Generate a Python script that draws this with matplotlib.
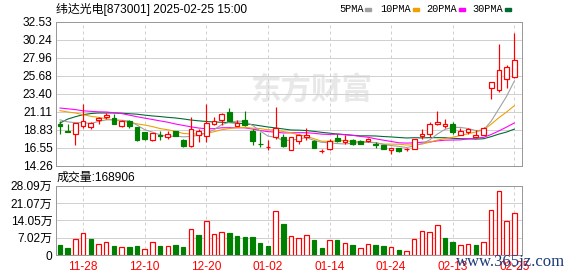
import numpy as np
import matplotlib
matplotlib.use('Agg')
import matplotlib.pyplot as plt
from matplotlib.patches import Rectangle

plt.rcParams['font.family'] = ['Noto Sans CJK SC', 'DejaVu Sans']

# ---- data ----
title = '纬达光电[873001] 2025-02-25 15:00'
vol_title = '成交量:168906'
date_pos = [3, 11, 19, 27, 35, 43, 51, 59]
date_labels = ['11-28', '12-10', '12-20', '01-02', '01-14', '01-24', '02-13', '02-25']
price_ticks = [32.53, 30.24, 27.96, 25.68, 23.40, 21.11, 18.83, 16.55, 14.26]
vol_ticks = [28.09, 21.07, 14.05, 7.02, 0]
vol_tick_labels = ['28.09万', '21.07万', '14.05万', '7.02万', '0']

opens = [19.55, 18.68, 18.25, 19.28, 19.24, 20.04, 20.42, 20.34, 19.28, 20.00,
         19.20, 18.57, 17.51, 18.14, 17.97, 18.70, 17.60, 16.79, 18.14, 18.00,
         19.62, 20.04, 21.10, 19.28, 20.04, 18.65, 17.05, 16.62, 17.93, 17.93,
         16.33, 17.43, 17.93, 17.39, 16.18, 16.37, 17.85, 17.30, 17.51, 17.40,
         17.39, 17.09, 16.88, 16.25, 16.54, 16.35, 16.46, 18.06, 18.36, 19.54,
         19.28, 19.62, 18.23, 18.57, 17.93, 18.23, 24.18, 23.88, 25.23, 25.49]
highs = [19.92, 19.58, 19.75, 22.11, 19.83, 20.47, 20.97, 20.84, 20.04, 20.04,
         19.20, 18.60, 18.45, 18.65, 18.65, 18.75, 17.62, 20.42, 18.90, 22.11,
         20.47, 20.97, 21.60, 20.04, 21.18, 18.99, 18.57, 17.51, 21.73, 18.36,
         17.95, 18.36, 19.11, 17.60, 16.46, 17.72, 18.27, 18.14, 17.72, 17.55,
         17.80, 17.30, 16.90, 16.60, 16.60, 16.54, 17.70, 18.99, 19.83, 21.18,
         20.25, 19.83, 19.07, 19.07, 18.78, 19.20, 24.95, 29.71, 27.05, 31.06]
lows = [18.36, 18.58, 16.88, 19.11, 18.99, 19.62, 20.25, 19.54, 19.24, 19.07,
        17.40, 17.55, 17.45, 17.51, 17.72, 18.05, 16.70, 16.67, 17.30, 17.30,
        19.41, 19.41, 19.92, 19.28, 19.35, 16.88, 16.67, 16.25, 17.72, 16.67,
        16.25, 17.00, 17.60, 16.54, 15.91, 16.25, 17.30, 17.09, 16.96, 17.05,
        17.30, 16.54, 16.40, 15.82, 16.00, 16.12, 16.37, 17.72, 17.93, 19.41,
        19.07, 18.36, 18.14, 18.36, 17.81, 18.14, 22.70, 23.67, 24.09, 25.36]
closes = [19.28, 18.62, 19.70, 19.92, 19.66, 20.30, 20.76, 19.62, 19.92, 19.28,
          17.55, 17.63, 18.40, 18.06, 18.27, 18.10, 16.79, 18.90, 18.65, 19.70,
          19.92, 20.84, 20.00, 19.66, 19.41, 17.39, 17.00, 16.67, 19.07, 16.75,
          17.93, 18.14, 18.20, 16.54, 16.22, 17.39, 17.40, 17.51, 17.09, 17.05,
          17.72, 16.88, 16.46, 16.54, 16.12, 16.40, 17.64, 18.27, 19.54, 19.83,
          19.62, 18.57, 18.65, 18.90, 18.23, 19.07, 24.90, 26.42, 26.84, 27.68]

ma5 = [20.10, 19.85, 19.75, 19.75, 19.65, 19.90, 20.10, 20.10, 20.05, 19.95,
       19.45, 18.85, 18.55, 18.20, 18.00, 18.05, 17.95, 18.00, 18.15, 18.45,
       18.85, 19.50, 19.80, 19.95, 19.90, 19.40, 18.70, 18.05, 17.90, 17.50,
       17.50, 17.70, 17.85, 17.50, 17.25, 17.20, 17.10, 17.05, 17.15, 17.25,
       17.25, 17.20, 17.00, 16.85, 16.75, 16.60, 16.80, 17.10, 17.55, 18.30,
       18.90, 19.15, 19.15, 19.00, 18.75, 18.80, 19.95, 21.50, 23.09, 25.00]
ma10 = [21.27, 21.10, 20.97, 20.76, 20.55, 20.42, 20.25, 20.08, 19.96, 19.80,
        19.60, 19.45, 19.25, 19.00, 18.85, 18.65, 18.38, 18.32, 18.30, 18.40,
        18.60, 18.85, 19.00, 19.12, 19.15, 19.05, 19.00, 18.85, 18.80, 18.62,
        18.47, 18.20, 18.02, 17.71, 17.39, 17.39, 17.42, 17.51, 17.31, 17.35,
        17.33, 17.20, 17.03, 17.03, 17.02, 16.92, 16.95, 17.03, 17.27, 17.54,
        17.73, 17.90, 18.12, 18.35, 18.57, 18.83, 19.56, 20.37, 21.10, 21.89]
ma20 = [21.60, 21.50, 21.40, 21.25, 21.18, 21.12, 21.10, 21.00, 20.90, 20.70,
        20.50, 20.32, 20.15, 19.97, 19.80, 19.58, 19.40, 19.22, 19.07, 18.98,
        18.99, 19.10, 19.11, 19.10, 19.09, 18.94, 18.75, 18.61, 18.56, 18.44,
        18.46, 18.48, 18.47, 18.40, 18.29, 18.26, 18.29, 18.22, 18.14, 18.01,
        17.90, 17.70, 17.53, 17.37, 17.20, 17.16, 17.19, 17.27, 17.29, 17.44,
        17.53, 17.55, 17.57, 17.69, 17.79, 17.88, 18.25, 18.70, 19.19, 19.71]
ma30 = [19.70, 20.20, 20.50, 20.76, 20.90, 20.97, 20.97, 20.97, 20.95, 20.88,
        20.82, 20.70, 20.60, 20.52, 20.42, 20.34, 20.22, 20.08, 19.98, 19.90,
        19.83, 19.80, 19.75, 19.70, 19.60, 19.50, 19.35, 19.20, 19.08, 18.95,
        18.82, 18.80, 18.75, 18.64, 18.52, 18.42, 18.31, 18.24, 18.15, 18.08,
        18.08, 18.06, 17.99, 17.94, 17.87, 17.81, 17.84, 17.82, 17.85, 17.85,
        17.84, 17.77, 17.72, 17.70, 17.66, 17.71, 17.98, 18.30, 18.56, 18.93]

# volume in 万 shares, and whether the bar is drawn red (up) or green
volume = [4.05, 2.97, 6.35, 8.78, 6.48, 4.46, 5.27, 3.65, 3.10, 3.40,
          3.65, 2.43, 5.13, 3.65, 3.50, 4.05, 3.24, 10.4, 8.10, 13.8,
          8.50, 9.30, 8.90, 7.70, 7.30, 7.30, 4.86, 3.65, 17.7, 12.6,
          7.70, 6.75, 8.00, 6.10, 2.80, 6.10, 6.10, 4.70, 4.05, 2.70,
          4.30, 4.05, 3.65, 3.10, 2.00, 1.50, 6.35, 9.60, 9.30, 12.0,
          6.90, 5.40, 3.90, 4.30, 4.05, 5.27, 18.1, 25.8, 13.6, 16.89]
vol_up = [0, 0, 1, 1, 0, 1, 1, 0, 1, 0, 0, 1, 1, 0, 1, 0, 0, 1, 0, 1,
          1, 1, 0, 0, 0, 0, 0, 0, 1, 0, 1, 1, 1, 0, 0, 1, 0, 1, 0, 1,
          1, 0, 0, 1, 0, 1, 1, 1, 1, 1, 0, 0, 1, 1, 0, 1, 1, 1, 1, 1]

ma_names = ['5PMA', '10PMA', '20PMA', '30PMA']
ma_colors = ['#a0a0a0', '#f0a000', '#ff00ff', '#006a35']

RED = '#ff0000'
GREEN = '#008000'
GRID = '#d0d0d0'
SPINE = '#999999'
W, H = 578, 276
px = 72 / 100.  # one pixel in points
MIXED = ['Liberation Sans', 'Noto Sans CJK SC']

x = np.arange(len(closes))
opens = np.array(opens); closes = np.array(closes)
up = closes >= opens

fig = plt.figure(figsize=(W / 100, H / 100), dpi=100)
fig.set_facecolor('white')
ax = fig.add_axes([56 / W, 1 - 166 / H, 466 / W, (166 - 21.7) / H])
ax2 = fig.add_axes([56 / W, 1 - 255 / H, 466 / W, (255 - 185.7) / H])

for a in (ax, ax2):
    a.set_xlim(-0.52, 60.0)
    for s in a.spines.values():
        s.set_color(SPINE)
        s.set_linewidth(px)
    a.tick_params(length=0)
    for p in date_pos:
        a.axvline(p, color=GRID, lw=px, ls=(0, (3, 3)), zorder=0.6)

# price panel
ax.set_ylim(price_ticks[-1], price_ticks[0])
ax.set_yticks(price_ticks)
ax.set_yticklabels([f'{t:.2f}' for t in price_ticks], family='Liberation Sans', fontsize=8.6)
ax.tick_params(axis='y', pad=2.5)
ax.set_xticks([])
for t in price_ticks:
    ax.axhline(t, color=GRID, lw=px, zorder=0.5)

# faint site watermark inside the price panel
ax.text(0.548, 0.53, '东方财富', transform=ax.transAxes, ha='center', va='center',
        fontsize=22, fontweight='bold', color='#e8e8e8', zorder=0.4)

for vals, c in zip([ma30, ma20, ma10, ma5], ma_colors[::-1]):
    ax.plot(x, vals, color=c, lw=px * 1.1, zorder=2)

cols = np.where(up, RED, GREEN)
faces = np.where(up, 'white', GREEN)
ax.vlines(x, lows, highs, colors=cols, lw=px * 1.2, zorder=3)
body = np.maximum(np.abs(closes - opens), 0.02)
ax.bar(x, body, bottom=np.minimum(opens, closes), width=0.62,
       color=faces, edgecolor=cols, linewidth=px * 1.2, zorder=4)

# volume panel
ax2.set_ylim(0, vol_ticks[0])
ax2.set_yticks(vol_ticks)
ax2.set_yticklabels(vol_tick_labels, family=MIXED, fontsize=8.6)
ax2.tick_params(axis='y', pad=2.5)
for t in vol_ticks[:-1]:
    ax2.axhline(t, color=GRID, lw=px, zorder=0.5)
vup = np.array(vol_up) == 1
ax2.bar(x, volume, width=0.58, color=np.where(vup, 'white', GREEN),
        edgecolor=np.where(vup, RED, GREEN), linewidth=px * 1.2, zorder=3)
ax2.set_xticks(date_pos)
ax2.set_xticklabels(date_labels, family='Liberation Sans', fontsize=8.6, color=RED)
ax2.tick_params(axis='x', pad=4)

# header texts
fig.text(56 / W, 1 - 9.5 / H, title, fontsize=8.6, family=MIXED, va='center', ha='left')
fig.text(57 / W, 1 - 178 / H, vol_title, fontsize=8.6, family=MIXED, va='center', ha='left')

leg_x = [339, 380, 426, 472]
sw_x = [365, 413, 459, 505]
for name, c, lx, sx in zip(ma_names, ma_colors, leg_x, sw_x):
    fig.text(lx / W, 1 - 9.5 / H, name, fontsize=7.4, family='Liberation Mono',
             va='center', ha='left')
    fig.patches.append(Rectangle((sx / W, 1 - 11 / H), 6 / W, 3 / H,
                                 transform=fig.transFigure, color=c, figure=fig))

# third-party watermark that sits over the bottom-right corner
fig.text(456 / W, 1 - 262 / H, 'www.365jz.com', fontsize=12, family='Liberation Serif',
         color='#1c3a78', va='center', ha='left', zorder=10)

fig.savefig('out.png', dpi=100)
